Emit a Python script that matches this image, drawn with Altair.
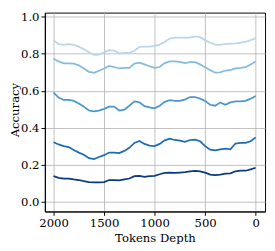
import altair as alt
import pandas as pd

depth = [2000, 1950, 1900, 1850, 1800, 1750, 1700, 1650, 1600, 1550, 1500,
         1450, 1400, 1350, 1300, 1250, 1200, 1150, 1100, 1050, 1000,
         950, 900, 850, 800, 750, 700, 650, 600, 550, 500,
         450, 400, 350, 300, 250, 200, 150, 100, 50, 0]

line1 = [0.873, 0.852, 0.848, 0.852, 0.848, 0.839, 0.825, 0.808, 0.794, 0.796, 0.808,
         0.820, 0.817, 0.803, 0.805, 0.805, 0.817, 0.838, 0.839, 0.839, 0.843,
         0.850, 0.864, 0.883, 0.888, 0.887, 0.887, 0.887, 0.894, 0.890, 0.874,
         0.860, 0.850, 0.848, 0.853, 0.855, 0.857, 0.860, 0.864, 0.874, 0.885]
line2 = [0.773, 0.759, 0.749, 0.749, 0.747, 0.738, 0.721, 0.703, 0.698, 0.709, 0.721,
         0.735, 0.729, 0.721, 0.724, 0.724, 0.747, 0.752, 0.743, 0.733, 0.724,
         0.729, 0.750, 0.759, 0.759, 0.757, 0.750, 0.755, 0.755, 0.743, 0.728,
         0.712, 0.698, 0.700, 0.710, 0.712, 0.721, 0.724, 0.728, 0.742, 0.759]
line3 = [0.590, 0.564, 0.551, 0.551, 0.546, 0.532, 0.515, 0.494, 0.489, 0.494, 0.503,
         0.515, 0.515, 0.494, 0.499, 0.520, 0.543, 0.538, 0.518, 0.511, 0.506,
         0.520, 0.541, 0.550, 0.546, 0.546, 0.553, 0.567, 0.567, 0.558, 0.546,
         0.525, 0.520, 0.538, 0.525, 0.538, 0.543, 0.543, 0.546, 0.558, 0.572]
line4 = [0.323, 0.311, 0.302, 0.297, 0.281, 0.267, 0.255, 0.237, 0.232, 0.243, 0.253,
         0.267, 0.267, 0.264, 0.276, 0.293, 0.319, 0.330, 0.314, 0.305, 0.302,
         0.314, 0.333, 0.342, 0.335, 0.332, 0.325, 0.335, 0.337, 0.328, 0.302,
         0.283, 0.279, 0.284, 0.288, 0.284, 0.316, 0.319, 0.319, 0.328, 0.349]
line5 = [0.140, 0.131, 0.127, 0.126, 0.122, 0.119, 0.113, 0.108, 0.106, 0.106, 0.108,
         0.119, 0.119, 0.117, 0.122, 0.127, 0.140, 0.141, 0.136, 0.140, 0.141,
         0.150, 0.157, 0.159, 0.157, 0.159, 0.161, 0.166, 0.168, 0.166, 0.159,
         0.148, 0.145, 0.148, 0.154, 0.155, 0.166, 0.169, 0.169, 0.176, 0.185]

series_names = ["s1", "s2", "s3", "s4", "s5"]
series_values = [line1, line2, line3, line4, line5]
colors = ["#bad6eb", "#84bcdb", "#4a98c9", "#1e6db2", "#0b3a7e"]

x_ticks = [2000, 1500, 1000, 500, 0]
y_ticks = [0.0, 0.2, 0.4, 0.6, 0.8, 1.0]

rows = []
for name, vals in zip(series_names, series_values):
    for d, v in zip(depth, vals):
        rows.append({"depth": d, "acc": v, "series": name})
df = pd.DataFrame(rows)

font = "DejaVu Serif"

chart = alt.Chart(df).mark_line(strokeWidth=1.8).encode(
    x=alt.X("depth:Q",
            scale=alt.Scale(domain=[2086, -93], nice=False, zero=False),
            axis=alt.Axis(title="Tokens Depth", values=x_ticks, format="d",
                          titlePadding=5)),
    y=alt.Y("acc:Q",
            scale=alt.Scale(domain=[-0.0508, 1.0225], nice=False, zero=False),
            axis=alt.Axis(title="Accuracy", values=y_ticks, format=".1f",
                          titleX=-24, titleY=100)),
    color=alt.Color("series:N", scale=alt.Scale(domain=series_names, range=colors),
                    legend=None),
).properties(
    width=227,
    height=205,
    autosize=alt.AutoSizeParams(type="none"),
    padding={"left": 38, "top": 1, "right": 2, "bottom": 37},
).configure_view(
    stroke="black", strokeWidth=1
).configure_axis(
    labelFont=font, labelFontSize=12, labelColor="black", labelPadding=2,
    titleFont=font, titleFontSize=12, titleFontWeight="normal", titleColor="black",
    tickColor="black", tickSize=4, tickWidth=1,
    domainColor="black", domainWidth=1,
    gridColor="#b0b0b0", gridWidth=0.8,
)

chart.save("out.html", embed_options={"renderer": "svg", "actions": False})
